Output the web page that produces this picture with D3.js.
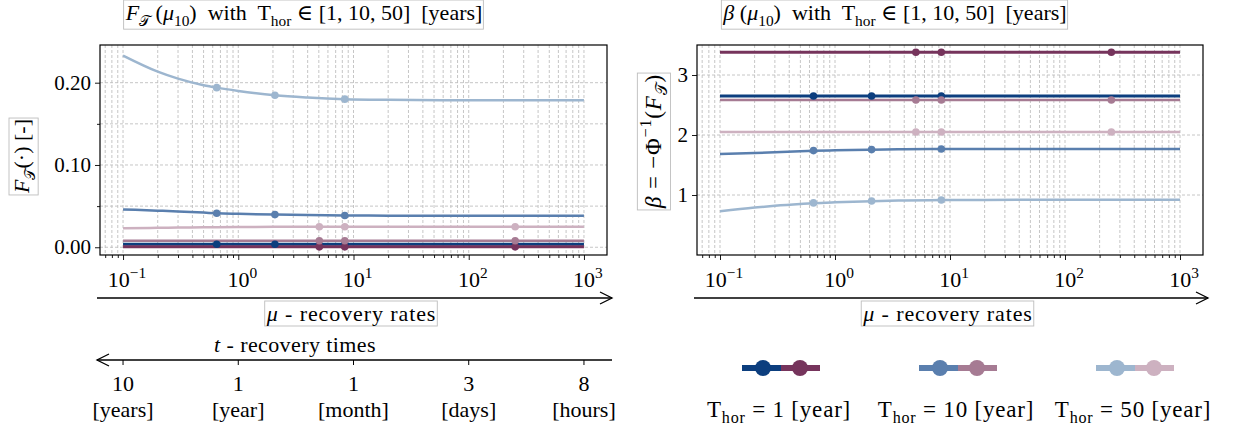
<!DOCTYPE html>
<html>
<head>
<meta charset="utf-8">
<script src="https://cdn.jsdelivr.net/npm/d3@7"></script>
<style>
  body { margin: 0; background: #fff; }
  svg text { font-family: "Liberation Serif", "DejaVu Serif", serif; fill: #000; white-space: pre; }
</style>
</head>
<body>
<svg id="chart" width="1237" height="430"></svg>
<script>
// recovery rates where the curves are sampled
const muGrid = [0.1, 0.2, 0.3, 0.5, 0.65, 1, 2.08, 4, 8.4, 20, 100, 1000];
const muDotsBlue = [0.65, 2.08, 8.4];
const muDotsPurple = [5.05, 8.4, 253];

// failure probability F_T, blue curves
const fBlue1 = [0.0036, 0.0036, 0.0036, 0.0036, 0.0036, 0.0036, 0.0036, 0.0036, 0.0036, 0.0036, 0.0036, 0.0036];
const fBlue10 = [0.046, 0.0445, 0.0435, 0.0421, 0.0413, 0.0406, 0.0397, 0.0391, 0.0386, 0.0384, 0.0383, 0.0383];
const fBlue50 = [0.233, 0.2135, 0.205, 0.197, 0.194, 0.190, 0.1847, 0.182, 0.180, 0.1792, 0.1787, 0.1786];
// failure probability, purple curves
const fPurple1 = [0.0005, 0.0005, 0.0005, 0.0005, 0.0005, 0.0005, 0.0005, 0.0005, 0.0005, 0.0005, 0.0005, 0.0005];
const fPurple10 = [0.0078, 0.0078, 0.0079, 0.0079, 0.008, 0.008, 0.008, 0.008, 0.008, 0.008, 0.008, 0.008];
const fPurple50 = [0.0232, 0.0236, 0.0239, 0.0242, 0.0244, 0.0246, 0.0248, 0.0249, 0.025, 0.025, 0.025, 0.025];
// dot values on the F plot
const fDotsBlue1 = [0.0036, 0.0036, 0.0036];
const fDotsBlue10 = [0.0413, 0.0397, 0.0386];
const fDotsBlue50 = [0.194, 0.1847, 0.180];
const fDotsPurple1 = [0.0005, 0.0005, 0.0005];
const fDotsPurple10 = [0.008, 0.008, 0.008];
const fDotsPurple50 = [0.025, 0.025, 0.025];

// reliability index beta
const bBlue1 = [2.65, 2.65, 2.65, 2.65, 2.65, 2.65, 2.65, 2.65, 2.65, 2.65, 2.65, 2.65];
const bBlue10 = [1.682, 1.70, 1.712, 1.728, 1.736, 1.745, 1.754, 1.762, 1.767, 1.768, 1.768, 1.768];
const bBlue50 = [0.728, 0.79, 0.82, 0.85, 0.863, 0.878, 0.897, 0.908, 0.915, 0.918, 0.92, 0.92];
const bPurple1 = [3.38, 3.38, 3.38, 3.38, 3.38, 3.38, 3.38, 3.38, 3.38, 3.38, 3.38, 3.38];
const bPurple10 = [2.583, 2.583, 2.583, 2.583, 2.583, 2.583, 2.583, 2.583, 2.583, 2.583, 2.583, 2.583];
const bPurple50 = [2.05, 2.05, 2.05, 2.05, 2.05, 2.05, 2.05, 2.05, 2.05, 2.05, 2.05, 2.05];
const bDotsBlue1 = [2.65, 2.65, 2.65];
const bDotsBlue10 = [1.74, 1.757, 1.767];
const bDotsBlue50 = [0.868, 0.90, 0.917];
const bDotsPurple1 = [3.38, 3.38, 3.38];
const bDotsPurple10 = [2.583, 2.583, 2.583];
const bDotsPurple50 = [2.05, 2.05, 2.05];

// axis ticks
const xMajor = [0.1, 1, 10, 100, 1000];
const xExp = ["\u22121", "0", "1", "2", "3"];
const yTicksF = [0, 0.10, 0.20];
const yMinorF = [0.05, 0.15];
const yTicksB = [1, 2, 3];
const tLabels = ["10", "1", "1", "3", "8"];
const tUnits = ["[years]", "[year]", "[month]", "[days]", "[hours]"];
const horizons = ["1", "10", "50"];

const blueCol = ["#0c3e7e", "#5a7fae", "#9db6cf"];
const purpleCol = ["#76345c", "#a67b93", "#cdb1c0"];

const svg = d3.select("#chart");
const gridCol = "#c0c0c0";

// helper for text with italics / subscripts / superscripts
function rich(sel, parts, size) {
  let shift = 0;
  parts.forEach(p => {
    const target = p.sub ? size * 0.28 : p.sup ? -size * 0.42 : 0;
    sel.append("tspan")
      .attr("dy", target - shift)
      .attr("font-size", (p.sub || p.sup) ? size * 0.7 : size)
      .attr("font-style", p.it ? "italic" : "normal")
      .text(p.t);
    shift = target;
  });
  return sel;
}

function boxed(g, pad) {
  const t = g.select("text");
  const bb = t.node().getBBox();
  g.insert("rect", "text")
    .attr("x", bb.x - pad).attr("y", bb.y - pad + 1)
    .attr("width", bb.width + 2 * pad).attr("height", bb.height + 2 * pad - 2)
    .attr("fill", "#fff").attr("stroke", "#bdbdbd").attr("stroke-width", 0.9);
}

const minors = [];
for (let e = -2; e <= 3; e++) for (let k = 2; k <= 9; k++) {
  const v = k * Math.pow(10, e);
  if (v > 0.06 && v < 1500) minors.push(v);
}

function panel(x0, x1, yDomain, yTicks, yMin, yFmt, series, dots) {
  const y0 = 45, y1 = 255;
  const x = d3.scaleLog().domain([Math.pow(10, -1.2), Math.pow(10, 3.2)]).range([x0, x1]);
  const y = d3.scaleLinear().domain(yDomain).range([y1, y0]);
  const g = svg.append("g");

  // grid
  g.append("g").selectAll("line").data(xMajor.concat(minors)).join("line")
    .attr("x1", d => x(d)).attr("x2", d => x(d)).attr("y1", y0).attr("y2", y1)
    .attr("stroke", gridCol).attr("stroke-width", 0.9).attr("stroke-dasharray", "3,2");
  g.append("g").selectAll("line").data(yTicks.concat(yMin)).join("line")
    .attr("x1", x0).attr("x2", x1).attr("y1", d => y(d)).attr("y2", d => y(d))
    .attr("stroke", gridCol).attr("stroke-width", 0.9).attr("stroke-dasharray", "3,2");

  // curves
  const line = d3.line().x((d, i) => x(muGrid[i])).y(d => y(d)).curve(d3.curveMonotoneX);
  series.forEach(s => {
    g.append("path").attr("d", line(s.v)).attr("fill", "none")
      .attr("stroke", s.c).attr("stroke-width", s.w);
  });
  dots.forEach(s => {
    g.append("g").selectAll("circle").data(s.v).join("circle")
      .attr("cx", (d, i) => x(s.mu[i])).attr("cy", d => y(d)).attr("r", 3.8)
      .attr("fill", s.c);
  });

  // frame
  g.append("rect").attr("x", x0).attr("y", y0).attr("width", x1 - x0).attr("height", y1 - y0)
    .attr("fill", "none").attr("stroke", "#000").attr("stroke-width", 1.2);

  // x axis ticks
  const ax = g.append("g").attr("transform", `translate(0,${y1})`);
  ax.call(d3.axisBottom(x).tickValues(xMajor).tickSize(5).tickFormat(""));
  ax.append("g").call(d3.axisBottom(x).tickValues(minors).tickSize(3).tickFormat(""));
  ax.selectAll(".domain").remove();
  ax.selectAll("line").attr("stroke-width", 0.9);
  xMajor.forEach((v, i) => {
    const t = ax.append("text").attr("x", x(v) + 4).attr("y", 32).attr("text-anchor", "middle");
    rich(t, [{ t: "10" }, { t: xExp[i], sup: true }], 22);
  });

  // y axis ticks
  const ay = g.append("g").attr("transform", `translate(${x0},0)`);
  ay.call(d3.axisLeft(y).tickValues(yTicks).tickSize(5).tickFormat(""));
  ay.append("g").call(d3.axisLeft(y).tickValues(yMin).tickSize(3).tickFormat(""));
  ay.selectAll(".domain").remove();
  ay.selectAll("line").attr("stroke-width", 0.9);
  yTicks.forEach(v => {
    ay.append("text").attr("x", -9).attr("y", y(v) + 7).attr("text-anchor", "end")
      .attr("font-size", 21).text(yFmt(v));
  });

  // mu arrow below the axis
  const ya = 298;
  g.append("line").attr("x1", x0 - 3).attr("x2", x1 + 5).attr("y1", ya).attr("y2", ya)
    .attr("stroke", "#000").attr("stroke-width", 1.3);
  g.append("path").attr("d", `M${x1 - 7},${ya - 6} L${x1 + 5},${ya} L${x1 - 7},${ya + 6}`)
    .attr("fill", "none").attr("stroke", "#000").attr("stroke-width", 1.3);
  const lb = g.append("g");
  const lt = lb.append("text").attr("x", (x0 + x1) / 2 - 2).attr("y", 321)
    .attr("text-anchor", "middle").attr("letter-spacing", 0.9);
  rich(lt, [{ t: "\u03bc", it: true }, { t: " - recovery rates" }], 22);
  boxed(lb, 1);
  return x;
}

const xL = panel(100, 607, [-0.0094, 0.2458], yTicksF, yMinorF, d3.format(".2f"),
  [
    { v: fBlue1, c: blueCol[0], w: 3 }, { v: fPurple1, c: purpleCol[0], w: 3 },
    { v: fBlue10, c: blueCol[1], w: 2.5 }, { v: fPurple10, c: purpleCol[1], w: 2.5 },
    { v: fBlue50, c: blueCol[2], w: 2.5 }, { v: fPurple50, c: purpleCol[2], w: 2.5 }
  ],
  [
    { v: fDotsBlue1, mu: muDotsBlue, c: blueCol[0] }, { v: fDotsPurple1, mu: muDotsPurple, c: purpleCol[0] },
    { v: fDotsBlue10, mu: muDotsBlue, c: blueCol[1] }, { v: fDotsPurple10, mu: muDotsPurple, c: purpleCol[1] },
    { v: fDotsBlue50, mu: muDotsBlue, c: blueCol[2] }, { v: fDotsPurple50, mu: muDotsPurple, c: purpleCol[2] }
  ]);

panel(697, 1203, [0, 3.5], yTicksB, [], d3.format("d"),
  [
    { v: bBlue1, c: blueCol[0], w: 3 }, { v: bPurple1, c: purpleCol[0], w: 3 },
    { v: bBlue10, c: blueCol[1], w: 2.5 }, { v: bPurple10, c: purpleCol[1], w: 2.5 },
    { v: bBlue50, c: blueCol[2], w: 2.5 }, { v: bPurple50, c: purpleCol[2], w: 2.5 }
  ],
  [
    { v: bDotsBlue1, mu: muDotsBlue, c: blueCol[0] }, { v: bDotsPurple1, mu: muDotsPurple, c: purpleCol[0] },
    { v: bDotsBlue10, mu: muDotsBlue, c: blueCol[1] }, { v: bDotsPurple10, mu: muDotsPurple, c: purpleCol[1] },
    { v: bDotsBlue50, mu: muDotsBlue, c: blueCol[2] }, { v: bDotsPurple50, mu: muDotsPurple, c: purpleCol[2] }
  ]);

// titles
const t1 = svg.append("g");
rich(t1.append("text").attr("x", 304).attr("y", 20).attr("text-anchor", "middle"), [
  { t: "F", it: true }, { t: "\ud835\udcaf", sub: true }, { t: " (" }, { t: "\u03bc", it: true }, { t: "10", sub: true },
  { t: ")  with  T" }, { t: "hor", sub: true }, { t: " \u2208 [1, 10, 50]  [years]" }], 22);
boxed(t1, 1);
const t2 = svg.append("g");
rich(t2.append("text").attr("x", 895).attr("y", 20).attr("text-anchor", "middle"), [
  { t: "\u03b2", it: true }, { t: " (" }, { t: "\u03bc", it: true }, { t: "10", sub: true },
  { t: ")  with  T" }, { t: "hor", sub: true }, { t: " \u2208 [1, 10, 50]  [years]" }], 22);
boxed(t2, 1);

// y labels
const yl1 = svg.append("g").attr("transform", "translate(29,156) rotate(-90)");
rich(yl1.append("text").attr("text-anchor", "middle"), [
  { t: "F", it: true }, { t: "\ud835\udcaf", sub: true }, { t: "(\u00b7) [-]" }], 22);
boxed(yl1, 1);
const yl2 = svg.append("g").attr("transform", "translate(661,141) rotate(-90)");
rich(yl2.append("text").attr("text-anchor", "middle").attr("letter-spacing", 0.8), [
  { t: "\u03b2", it: true }, { t: " = \u2212\u03a6" }, { t: "\u22121", sup: true }, { t: "(" },
  { t: "F", it: true }, { t: "\ud835\udcaf", sub: true }, { t: ")" }], 23);
boxed(yl2, 1);

// recovery time axis
const ty = 360;
svg.append("line").attr("x1", 97).attr("x2", 612).attr("y1", ty).attr("y2", ty)
  .attr("stroke", "#000").attr("stroke-width", 1.3);
svg.append("path").attr("d", `M${109},${ty - 6} L97,${ty} L${109},${ty + 6}`)
  .attr("fill", "none").attr("stroke", "#000").attr("stroke-width", 1.3);
svg.append("g").selectAll("line").data(xMajor).join("line")
  .attr("x1", d => xL(d)).attr("x2", d => xL(d)).attr("y1", ty).attr("y2", ty + 5)
  .attr("stroke", "#000").attr("stroke-width", 1);
svg.append("g").selectAll("text").data(tLabels).join("text")
  .attr("x", (d, i) => xL(xMajor[i])).attr("y", 391).attr("text-anchor", "middle")
  .attr("font-size", 22).text(d => d);
svg.append("g").selectAll("text").data(tUnits).join("text")
  .attr("x", (d, i) => xL(xMajor[i])).attr("y", 417).attr("text-anchor", "middle")
  .attr("font-size", 22).text(d => d);
rich(svg.append("text").attr("x", 295).attr("y", 352).attr("text-anchor", "middle").attr("letter-spacing", 0.4),
  [{ t: "t", it: true }, { t: " - recovery times" }], 22);

// legend
horizons.forEach((h, i) => {
  const cx = 781 + i * 177;
  const g = svg.append("g");
  g.append("line").attr("x1", cx - 39).attr("x2", cx).attr("y1", 368).attr("y2", 368)
    .attr("stroke", blueCol[i]).attr("stroke-width", 6);
  g.append("line").attr("x1", cx).attr("x2", cx + 39).attr("y1", 368).attr("y2", 368)
    .attr("stroke", purpleCol[i]).attr("stroke-width", 6);
  g.append("circle").attr("cx", cx - 18).attr("cy", 368).attr("r", 8).attr("fill", blueCol[i]);
  g.append("circle").attr("cx", cx + 19).attr("cy", 368).attr("r", 8).attr("fill", purpleCol[i]);
  rich(g.append("text").attr("x", cx - 2).attr("y", 417).attr("text-anchor", "middle").attr("letter-spacing", 0.8),
    [{ t: "T" }, { t: "hor", sub: true }, { t: " = " + h + " [year]" }], 23);
});
</script>
</body>
</html>
